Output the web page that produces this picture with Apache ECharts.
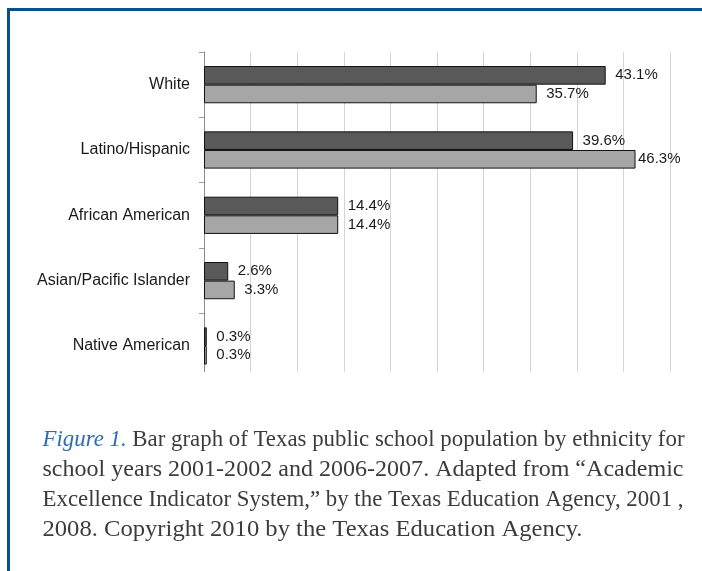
<!DOCTYPE html>
<html>
<head>
<meta charset="utf-8">
<script src="https://cdn.jsdelivr.net/npm/echarts@6/dist/echarts.min.js"></script>
<style>html,body{margin:0;padding:0;background:#fff;}#c{width:702px;height:571px;}</style>
</head>
<body>
<div id="c"></div>
<script>
var categories = ['White', 'Latino/Hispanic', 'African American', 'Asian/Pacific Islander', 'Native American'];
var seriesNames = ['2001-2002', '2006-2007'];
var values2001 = [43.1, 39.6, 14.4, 2.6, 0.3];
var values2006 = [35.7, 46.3, 14.4, 3.3, 0.3];
var captionLead = 'Figure 1.';
var captionLines = [
  ' Bar graph of Texas public school population by ethnicity for',
  'school years 2001-2002 and 2006-2007. Adapted from \u201cAcademic',
  'Excellence Indicator System,\u201d by the Texas Education Agency, 2001 ,',
  '2008. Copyright 2010 by the Texas Education Agency.'
];
var captionLineWidths = [642, 641, 641, 540];

var chart = echarts.init(document.getElementById('c'), null, {renderer: 'canvas'});
var sansFont = 'Liberation Sans, Arial, sans-serif';
var labelStyle = {show: true, position: 'right', distance: 9.5,
  formatter: function (p) { return p.value.toFixed(1) + '%'; },
  color: '#1a1a1a', fontFamily: sansFont, fontSize: 15};

// 46.3% label sits close to bar end (plot area limit in original)
var data2006 = values2006.map(function (v, i) {
  return i === 1 ? {value: v, label: {distance: 2.5}} : v;
});

var captionFont = 'Liberation Serif, Times New Roman, serif';
var captionSize = 23;
var measureCtx = document.createElement('canvas').getContext('2d');
function measure(t, italic) {
  measureCtx.font = (italic ? 'italic ' : '') + captionSize + 'px ' + captionFont;
  return measureCtx.measureText(t).width;
}
var captionGraphics = captionLines.map(function (line, i) {
  var w = measure(line, false) + (i === 0 ? measure(captionLead, true) : 0);
  var sx = captionLineWidths[i] / w;
  var txt = i === 0 ? '{a|' + captionLead + '}' + line : line;
  return {
    type: 'text', x: 42.5, y: 440 + i * 30, z: 10, scaleX: sx,
    style: {
      text: txt, fill: '#3c3c3c', font: captionSize + 'px ' + captionFont, verticalAlign: 'middle', align: 'left',
      rich: {a: {fill: '#2f6bb3', fontStyle: 'italic', fontSize: captionSize, fontFamily: captionFont}}
    }
  };
});

chart.setOption({
  animation: false,
  backgroundColor: '#ffffff',
  grid: {left: 204, top: 52, right: 32, bottom: 571 - 378.6, containLabel: false},
  xAxis: {
    type: 'value', min: 0, max: 50, interval: 5,
    axisLine: {show: false}, axisTick: {show: false}, axisLabel: {show: false},
    splitLine: {show: true, lineStyle: {color: '#d4d4d4', width: 1}}
  },
  yAxis: {
    type: 'category', data: categories, inverse: true,
    axisLine: {show: true, lineStyle: {color: '#8c8c8c', width: 1}},
    axisTick: {show: true, length: 5, lineStyle: {color: '#a0a0a0'}},
    axisLabel: {margin: 14, color: '#1a1a1a', fontFamily: sansFont, fontSize: 16}
  },
  series: [
    {name: seriesNames[0], type: 'bar', data: values2001, barGap: '0%', barCategoryGap: '43%',
      itemStyle: {color: '#595959', borderColor: '#111', borderWidth: 1}, label: labelStyle},
    {name: seriesNames[1], type: 'bar', data: data2006, barGap: '0%', barCategoryGap: '43%',
      itemStyle: {color: '#a6a6a6', borderColor: '#111', borderWidth: 1}, label: labelStyle}
  ],
  graphic: [
    {type: 'rect', z: 5, shape: {x: 180, y: 372, width: 520, height: 10}, style: {fill: '#ffffff'}},
    {type: 'rect', z: 20, shape: {x: 8.5, y: 9.5, width: 800, height: 700}, style: {fill: 'none', stroke: '#0d4f8b', lineWidth: 3}}
  ].concat(captionGraphics)
});
</script>
</body>
</html>
